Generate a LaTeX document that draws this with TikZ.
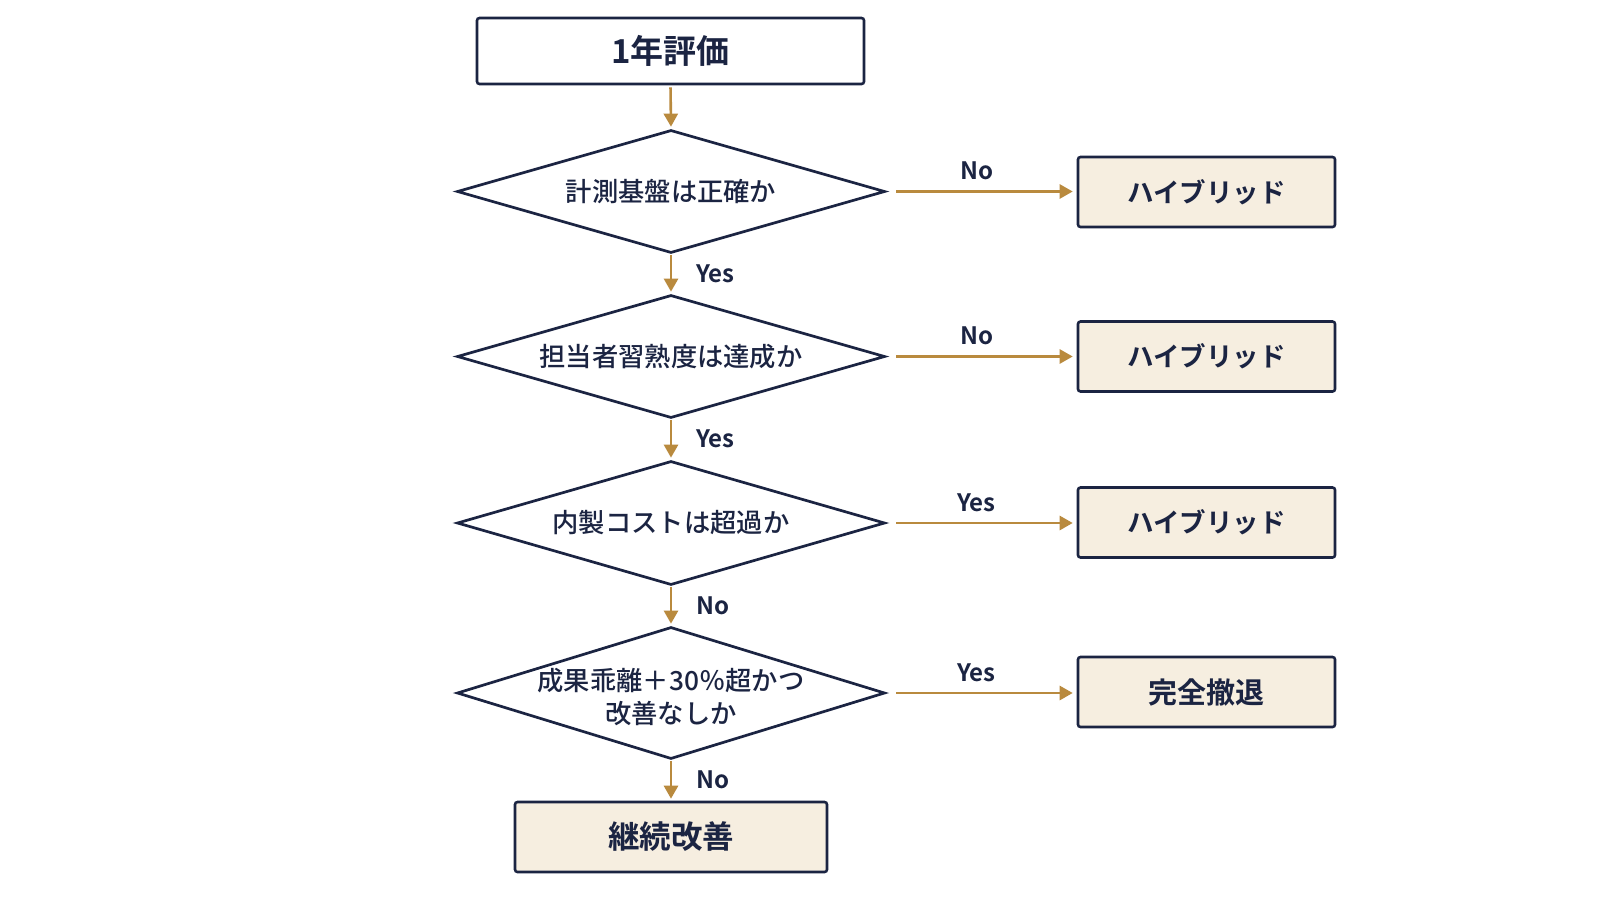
\documentclass[tikz,border=0pt]{standalone}
\usepackage{fontspec}
\setmainfont{Noto Sans CJK JP}[BoldFont={Noto Sans CJK JP Bold}]
\newfontfamily\jpbold{Noto Sans CJK JP Bold}
\newfontfamily\jpmed{Noto Sans CJK JP Medium}
\usetikzlibrary{shapes.geometric,arrows.meta}
\definecolor{navy}{HTML}{1B2442}
\definecolor{gold}{HTML}{B98A3E}
\definecolor{cream}{HTML}{F6EEE0}
\begin{document}
\begin{tikzpicture}[x=1pt,y=-1pt,
  startbox/.style={draw=navy, line width=2.6pt, rounded corners=2.5pt, fill=white, inner sep=0pt, text=navy, font=\jpbold\fontsize{33}{36}\selectfont},
  endbox/.style={draw=navy, line width=2.6pt, rounded corners=2.5pt, fill=cream, inner sep=0pt, text=navy, font=\jpbold\fontsize{29}{32}\selectfont},
  dia/.style={diamond, draw=navy, line width=2.7pt, fill=white, inner sep=0pt, minimum width=428pt},
  dtext/.style={text=navy, inner sep=0pt, align=center, font=\jpmed\fontsize{26.3}{33}\selectfont},
  flow/.style={draw=gold, line width=2.6pt, -{Triangle[length=13pt,width=14pt]}},
  lab/.style={text=navy, inner sep=0pt, font=\jpbold\fontsize{24}{28}\selectfont}
]
\useasboundingbox[fill=white] (0,0) rectangle (1600,900);

\node[startbox, minimum width=387pt, minimum height=66pt] (top) at (670.5,51) {1年評価};

\node[dia, minimum height=123pt] (d1) at (671,191.5) {};
\node[dtext] (t1) at (d1) {計測基盤は正確か};
\node[dia, minimum height=123pt] (d2) at (671,356.5) {};
\node[dtext] (t2) at (d2) {担当者習熟度は達成か};
\node[dia, minimum height=124pt] (d3) at (671,523) {};
\node[dtext] (t3) at (d3) {内製コストは超過か};
\node[dia, minimum height=132pt] (d4) at (671,693) {};
\node[dtext] (t4) at ([yshift=-4pt]d4.center) {成果乖離＋30％超かつ\\改善なしか};

\node[endbox, minimum width=257pt, minimum height=70pt, font=\jpbold\fontsize{26.5}{30}\selectfont] (h1) at (1206.5,192) {ハイブリッド};
\node[endbox, minimum width=257pt, minimum height=70pt, font=\jpbold\fontsize{26.5}{30}\selectfont] (h2) at (1206.5,356.5) {ハイブリッド};
\node[endbox, minimum width=257pt, minimum height=70pt, font=\jpbold\fontsize{26.5}{30}\selectfont] (h3) at (1206.5,522.5) {ハイブリッド};
\node[endbox, minimum width=257pt, minimum height=70pt] (h4) at (1206.5,692) {完全撤退};
\node[endbox, minimum width=312pt, minimum height=70pt, font=\jpbold\fontsize{31.5}{34}\selectfont] (fin) at (671,837) {継続改善};

\draw[flow, shorten <=2pt, shorten >=2pt] (top.south) -- (d1.north);
\draw[flow, shorten <=1pt, shorten >=2pt] (d1.south) -- (d2.north)
  node[lab, midway, anchor=base west, xshift=24pt, yshift=-8pt] {Yes};
\draw[flow, shorten <=1pt, shorten >=2pt] (d2.south) -- (d3.north)
  node[lab, midway, anchor=base west, xshift=24pt, yshift=-8pt] {Yes};
\draw[flow, shorten <=1pt, shorten >=2pt] (d3.south) -- (d4.north)
  node[lab, midway, anchor=base west, xshift=24pt, yshift=-8pt] {No};
\draw[flow, shorten <=1pt, shorten >=2pt] (d4.south) -- (fin.north)
  node[lab, midway, anchor=base west, xshift=24pt, yshift=-8pt] {No};

\draw[flow, shorten <=10pt, shorten >=4pt] (d1.east) -- (d1.east -| h1.west)
  node[lab, midway, anchor=base, xshift=-5pt, yshift=12pt] {No};
\draw[flow, shorten <=10pt, shorten >=4pt] (d2.east) -- (d2.east -| h2.west)
  node[lab, midway, anchor=base, xshift=-5pt, yshift=12pt] {No};
\draw[flow, shorten <=10pt, shorten >=4pt] (d3.east) -- (d3.east -| h3.west)
  node[lab, midway, anchor=base, xshift=-5pt, yshift=12pt] {Yes};
\draw[flow, shorten <=10pt, shorten >=4pt] (d4.east) -- (d4.east -| h4.west)
  node[lab, midway, anchor=base, xshift=-5pt, yshift=12pt] {Yes};
\end{tikzpicture}
\end{document}
